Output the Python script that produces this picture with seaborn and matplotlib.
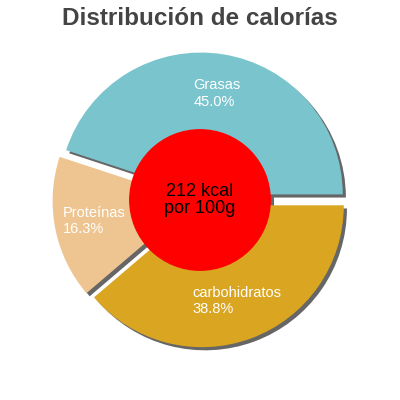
import matplotlib
matplotlib.use('Agg')
import matplotlib.pyplot as plt
import seaborn as sns

# data
labels = ['Grasas', 'Proteínas', 'carbohidratos']
percents = [45.0, 16.3, 38.8]
colors = ['#7AC5CD', '#EEC591', '#DAA520']
center_text = '212 kcal\npor 100g'
title = 'Distribución de calorías'

sns.set_style('white')
plt.rcParams['font.family'] = ['Liberation Sans', 'DejaVu Sans']

fig = plt.figure(figsize=(4, 4), dpi=100)
ax = fig.add_axes([0, 0, 1, 1])

shadow = {'ox': 0.016, 'oy': -0.016, 'facecolor': '#666666',
          'edgecolor': '#666666', 'alpha': 1}

texts = ax.pie(percents, labels=[f'{l}\n{p:.1f}%' for l, p in zip(labels, percents)],
               colors=colors, startangle=0, counterclock=True,
               explode=[0.04] * len(percents), labeldistance=0.72,
               shadow=shadow, wedgeprops={'linewidth': 0})[1]
for t in texts:
    t.set_color('white')
    t.set_fontsize(10.5)
    t.set_ha('center')
    t.set_va('center')
    t.set_multialignment('left')

ax.pie([1], radius=0.5, colors=['#FF0000'], shadow=shadow,
       wedgeprops={'linewidth': 0})
ax.text(0, 0, center_text, ha='center', va='center', fontsize=13,
        color='black', linespacing=1.0)

ax.set_xlim(-1.41, 1.41)
ax.set_ylim(-1.41, 1.41)
ax.set_aspect('equal')
ax.axis('off')

fig.text(0.5, 0.953, title, ha='center', va='center', fontsize=17.5,
         fontweight='bold', color='#444444')

fig.savefig('out.png', dpi=100, facecolor='white')
